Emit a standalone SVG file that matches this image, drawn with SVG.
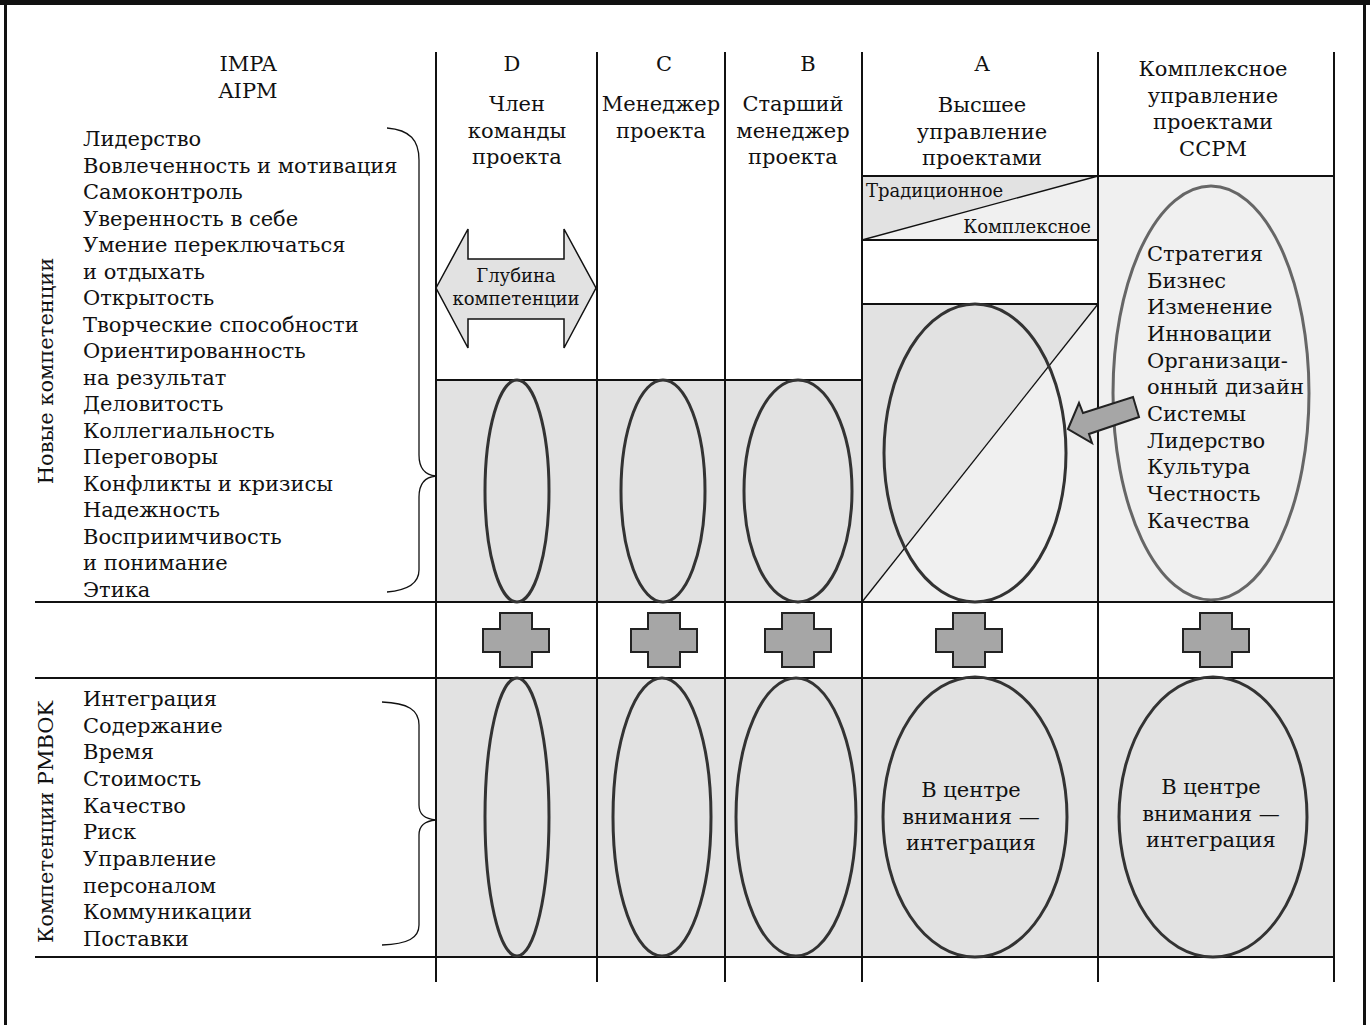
<svg xmlns="http://www.w3.org/2000/svg" width="1370" height="1025" viewBox="0 0 1370 1025">
<style>
text{font-family:"DejaVu Serif","Liberation Serif",serif;font-size:21px;fill:#111}
.c{text-anchor:middle}
.sm{font-size:18px}
.ln{stroke:#111;stroke-width:2;fill:none}
.thin{stroke:#111;stroke-width:1.3;fill:none}
.ell{fill:none;stroke:#333;stroke-width:3}
.cross{fill:#a6a6a6;stroke:#222;stroke-width:2}
.dark{fill:#e2e2e2}
.light{fill:#f0f0f0}
</style>
<rect x="0" y="0" width="1370" height="1025" fill="#fff"/>
<rect x="0" y="0" width="1370" height="5" fill="#111"/>
<rect x="4" y="0" width="3" height="1025" fill="#111"/>
<rect x="1363" y="0" width="3" height="1025" fill="#111"/>

<g id="backgrounds">
<rect class="dark" x="436" y="380" width="426" height="222"/>
<polygon class="dark" points="862,176 1098,176 862,240"/>
<polygon class="light" points="1098,176 1098,240 862,240"/>
<polygon class="dark" points="862,304 1098,304 862,602"/>
<polygon class="light" points="1098,304 1098,602 862,602"/>
<rect class="light" x="1098" y="176" width="236" height="426"/>
<rect class="dark" x="436" y="678" width="898" height="279"/>
</g>

<g id="grid">
<line class="ln" x1="436" y1="52" x2="436" y2="982"/>
<line class="ln" x1="597" y1="52" x2="597" y2="982"/>
<line class="ln" x1="725" y1="52" x2="725" y2="982"/>
<line class="ln" x1="862" y1="52" x2="862" y2="982"/>
<line class="ln" x1="1098" y1="52" x2="1098" y2="982"/>
<line class="ln" x1="1334" y1="52" x2="1334" y2="982"/>
<line class="ln" x1="35" y1="602" x2="1334" y2="602"/>
<line class="ln" x1="35" y1="678" x2="1334" y2="678"/>
<line class="ln" x1="35" y1="957" x2="1334" y2="957"/>
<line class="ln" x1="436" y1="380" x2="862" y2="380"/>
<line class="ln" x1="862" y1="176" x2="1334" y2="176"/>
<line class="ln" x1="862" y1="240" x2="1098" y2="240"/>
<line class="ln" x1="862" y1="304" x2="1098" y2="304"/>
<line class="thin" x1="862" y1="240" x2="1098" y2="176"/>
<line class="thin" x1="862" y1="602" x2="1098" y2="304"/>
</g>

<g id="header-left">
<text class="c" x="248" y="71">IMPA</text>
<text class="c" x="248" y="98">AIPM</text>
</g>
<g id="header-D">
<text class="c" x="512" y="71">D</text>
<text class="c" x="517" y="111">Член</text>
<text class="c" x="517" y="137.5">команды</text>
<text class="c" x="517" y="164">проекта</text>
</g>
<g id="header-C">
<text class="c" x="664" y="71">C</text>
<text class="c" x="661" y="111">Менеджер</text>
<text class="c" x="661" y="137.5">проекта</text>
</g>
<g id="header-B">
<text class="c" x="808" y="71">B</text>
<text class="c" x="793" y="111">Старший</text>
<text class="c" x="793" y="137.5">менеджер</text>
<text class="c" x="793" y="164">проекта</text>
</g>
<g id="header-A">
<text class="c" x="982" y="71">A</text>
<text class="c" x="982" y="112">Высшее</text>
<text class="c" x="982" y="138.5">управление</text>
<text class="c" x="982" y="165">проектами</text>
<text class="sm" x="866" y="197">Традиционное</text>
<text class="sm" x="1091" y="233" text-anchor="end">Комплексное</text>
</g>
<g id="header-CCPM">
<text class="c" x="1213" y="76">Комплексное</text>
<text class="c" x="1213" y="102.5">управление</text>
<text class="c" x="1213" y="129">проектами</text>
<text class="c" x="1213" y="155.5">ССРМ</text>
</g>

<g id="new-competencies">
<text transform="translate(53,371) rotate(-90)" class="c">Новые компетенции</text>
<text x="83" y="146">Лидерство</text>
<text x="83" y="172.5">Вовлеченность и мотивация</text>
<text x="83" y="199">Самоконтроль</text>
<text x="83" y="225.5">Уверенность в себе</text>
<text x="83" y="252">Умение переключаться</text>
<text x="83" y="278.5">и отдыхать</text>
<text x="83" y="305">Открытость</text>
<text x="83" y="331.5">Творческие способности</text>
<text x="83" y="358">Ориентированность</text>
<text x="83" y="384.5">на результат</text>
<text x="83" y="411">Деловитость</text>
<text x="83" y="437.5">Коллегиальность</text>
<text x="83" y="464">Переговоры</text>
<text x="83" y="490.5">Конфликты и кризисы</text>
<text x="83" y="517">Надежность</text>
<text x="83" y="543.5">Восприимчивость</text>
<text x="83" y="570">и понимание</text>
<text x="83" y="596.5">Этика</text>
<path class="thin" d="M387,128 C410,130 419,140 419,160 L419,455 C419,468 425,475 436,476 C425,477 419,484 419,497 L419,570 C419,582 410,590 387,592"/>
</g>

<g id="pmbok">
<text transform="translate(53,822) rotate(-90)" class="c">Компетенции PMBOK</text>
<text x="83" y="706">Интеграция</text>
<text x="83" y="732.7">Содержание</text>
<text x="83" y="759.4">Время</text>
<text x="83" y="786">Стоимость</text>
<text x="83" y="812.7">Качество</text>
<text x="83" y="839.4">Риск</text>
<text x="83" y="866">Управление</text>
<text x="83" y="892.7">персоналом</text>
<text x="83" y="919.4">Коммуникации</text>
<text x="83" y="946">Поставки</text>
<path class="thin" d="M382,702 C408,703 419,710 419,725 L419,805 C419,815 425,819 436,820 C425,821 419,825 419,835 L419,925 C419,938 408,944 382,945"/>
</g>

<g id="depth-arrow">
<polygon points="436,288 468,229 468,259 564,259 564,229 596,288 564,348 564,319 468,319 468,348" fill="#e2e2e2" stroke="#111" stroke-width="1.5"/>
<text class="c sm" x="516" y="282">Глубина</text>
<text class="c sm" x="516" y="305">компетенции</text>
</g>

<g id="row1-ellipses">
<ellipse class="ell" cx="517" cy="491" rx="32" ry="111"/>
<ellipse class="ell" cx="663" cy="491" rx="42" ry="111"/>
<ellipse class="ell" cx="798" cy="491" rx="54" ry="111"/>
<ellipse class="ell" cx="975" cy="453" rx="91" ry="149"/>
<ellipse cx="1211" cy="393" rx="98" ry="207" fill="none" stroke="#666" stroke-width="3"/>
</g>

<g id="ccpm-list">
<text x="1147" y="261">Стратегия</text>
<text x="1147" y="287.7">Бизнес</text>
<text x="1147" y="314.4">Изменение</text>
<text x="1147" y="341">Инновации</text>
<text x="1147" y="367.7">Организаци-</text>
<text x="1147" y="394.4">онный дизайн</text>
<text x="1147" y="421">Системы</text>
<text x="1147" y="447.7">Лидерство</text>
<text x="1147" y="474.4">Культура</text>
<text x="1147" y="501">Честность</text>
<text x="1147" y="527.7">Качества</text>
</g>

<g id="connectors">
<polygon class="cross" points="1068,429 1079,403 1083,413 1133,397 1139,417 1089,434 1092,443"/>
</g>

<g id="crosses">
<path class="cross" d="M500,613 h32 v16 h17 v23 h-17 v15 h-32 v-15 h-17 v-23 h17 z"/>
<path class="cross" d="M648,613 h32 v16 h17 v23 h-17 v15 h-32 v-15 h-17 v-23 h17 z"/>
<path class="cross" d="M782,613 h32 v16 h17 v23 h-17 v15 h-32 v-15 h-17 v-23 h17 z"/>
<path class="cross" d="M953,613 h32 v16 h17 v23 h-17 v15 h-32 v-15 h-17 v-23 h17 z"/>
<path class="cross" d="M1200,613 h32 v16 h17 v23 h-17 v15 h-32 v-15 h-17 v-23 h17 z"/>
</g>

<g id="row2-ellipses">
<ellipse class="ell" cx="517" cy="817" rx="32" ry="139"/>
<ellipse class="ell" cx="662" cy="817" rx="49" ry="139"/>
<ellipse class="ell" cx="796" cy="817" rx="60" ry="139"/>
<ellipse class="ell" cx="975" cy="817" rx="92" ry="140"/>
<ellipse class="ell" cx="1213" cy="817" rx="94" ry="140"/>
<text class="c" x="971" y="797">В центре</text>
<text class="c" x="971" y="823.5">внимания —</text>
<text class="c" x="971" y="850">интеграция</text>
<text class="c" x="1211" y="794">В центре</text>
<text class="c" x="1211" y="820.5">внимания —</text>
<text class="c" x="1211" y="847">интеграция</text>
</g>
</svg>
